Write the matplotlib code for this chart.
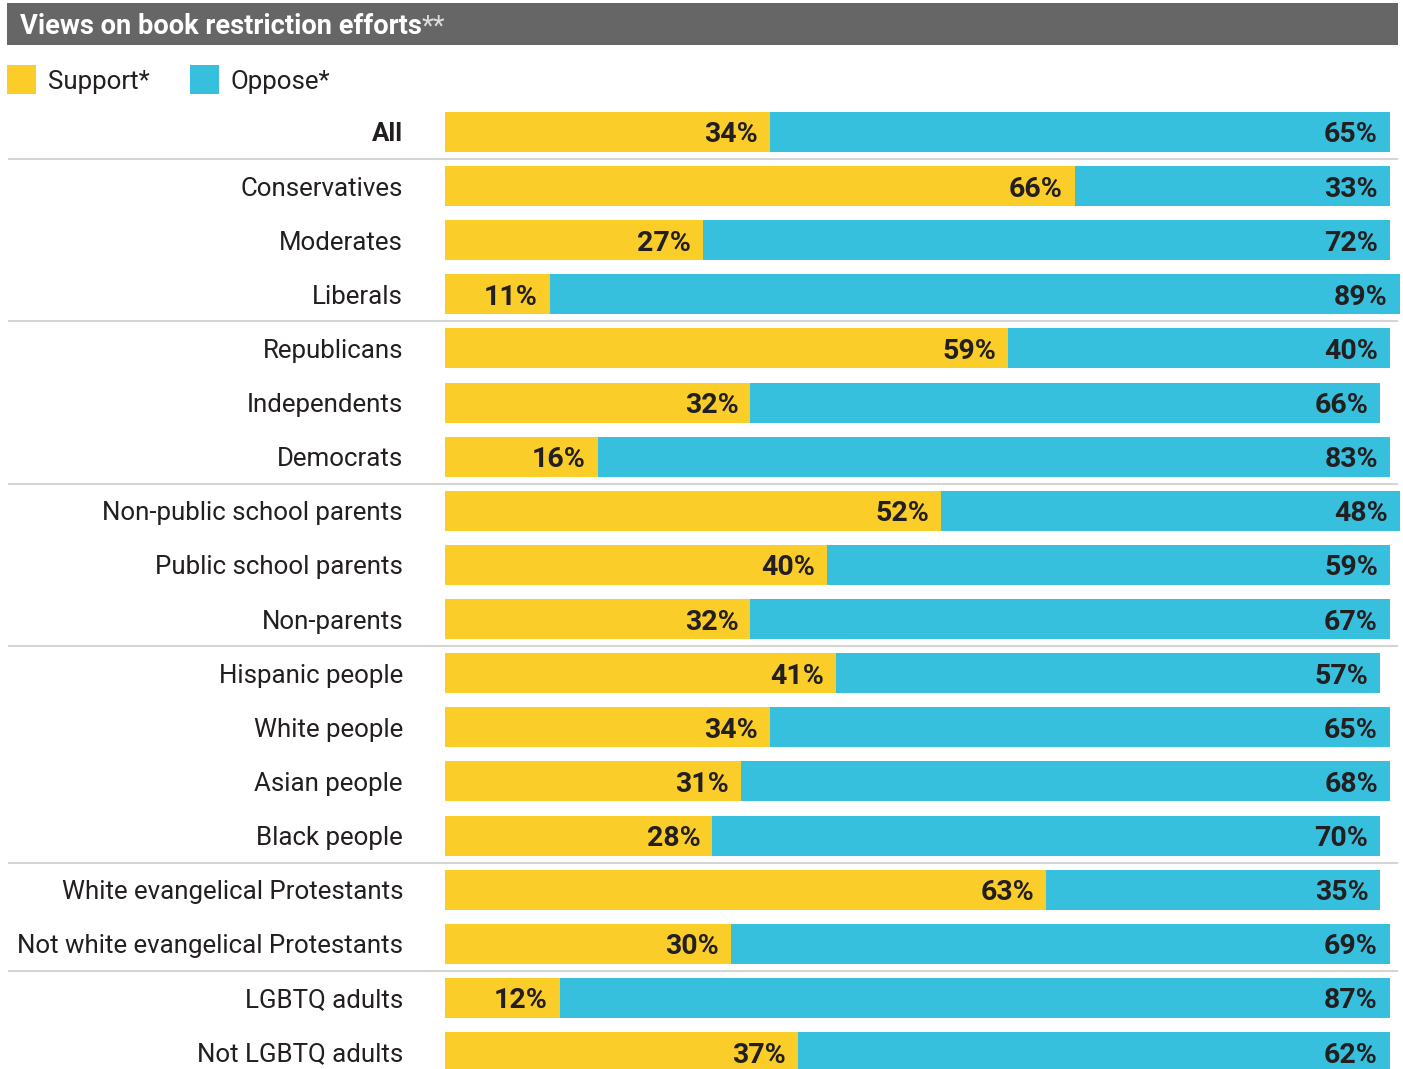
import matplotlib
matplotlib.use("Agg")
import matplotlib.pyplot as plt
from matplotlib import font_manager
from matplotlib.patches import Rectangle
from matplotlib.transforms import blended_transform_factory

categories = [
    "All", "Conservatives", "Moderates", "Liberals",
    "Republicans", "Independents", "Democrats",
    "Non-public school parents", "Public school parents", "Non-parents",
    "Hispanic people", "White people", "Asian people", "Black people",
    "White evangelical Protestants", "Not white evangelical Protestants",
    "LGBTQ adults", "Not LGBTQ adults",
]
support = [34, 66, 27, 11, 59, 32, 16, 52, 40, 32, 41, 34, 31, 28, 63, 30, 12, 37]
oppose = [65, 33, 72, 89, 40, 66, 83, 48, 59, 67, 57, 65, 68, 70, 35, 69, 87, 62]
group_ends = [0, 3, 6, 9, 13, 15]

title = "Views on book restriction efforts"
legend_labels = ["Support*", "Oppose*"]

YELLOW = "#FBCD29"
BLUE = "#37C0DD"
INK = "#231F20"
GREY_BAR = "#666666"
RULE = "#D4D4D4"

available = {f.name for f in font_manager.fontManager.ttflist}
narrow = "Liberation Sans Narrow" if "Liberation Sans Narrow" in available else "Roboto"

LABEL_FS = 18.6
VALUE_FS = 20.5
TITLE_FS = 19.6

W, H = 1403, 1069
fig = plt.figure(figsize=(W / 100, H / 100), dpi=100)

# bar axes: x from 445 px to 1399.5 px (0..100 %), rows spaced 54.12 px, first row centred at y=132 px
x0, x1 = 445, 1399.5
ax = fig.add_axes([x0 / W, 0, (x1 - x0) / W, 1])
row = 54.12
ax.set_xlim(0, 100)
ax.set_ylim((H - 132) / row, -132 / row)
ax.axis("off")

ys = list(range(len(categories)))
bh = 40 / row
ax.barh(ys, support, height=bh, color=YELLOW, linewidth=0)
ax.barh(ys, oppose, left=support, height=bh, color=BLUE, linewidth=0)

pad = 12 / (x1 - x0) * 100
for y, s, o in zip(ys, support, oppose):
    ax.text(s - pad, y, f"{s}%", ha="right", va="center_baseline",
            fontsize=VALUE_FS, fontweight="bold", family=narrow, color=INK)
    ax.text(s + o - pad, y, f"{o}%", ha="right", va="center_baseline",
            fontsize=VALUE_FS, fontweight="bold", family=narrow, color=INK)

lab_tr = blended_transform_factory(ax.transAxes, ax.transData)
lab_x = (403 - x0) / (x1 - x0)
for y, c in zip(ys, categories):
    ax.text(lab_x, y, c, transform=lab_tr, ha="right", va="center_baseline",
            fontsize=LABEL_FS, family=narrow, color=INK,
            fontweight="bold" if c == "All" else "normal")

rule_l = (8 - x0) / (x1 - x0)
rule_r = (1398 - x0) / (x1 - x0)
for g in group_ends:
    ax.plot([rule_l, rule_r], [g + 0.5, g + 0.5], transform=lab_tr,
            color=RULE, linewidth=1.5, clip_on=False, solid_capstyle="butt")

# title band
def px_rect(x, y, w, h, color):
    fig.patches.append(Rectangle((x / W, 1 - (y + h) / H), w / W, h / H,
                                 transform=fig.transFigure, color=color, linewidth=0))

px_rect(7, 3, 1391, 42, GREY_BAR)
t = fig.text(20 / W, 1 - 24 / H, title, color="white", fontsize=TITLE_FS,
             fontweight="bold", family="Roboto", va="center_baseline", ha="left")
fig.canvas.draw()
bb = t.get_window_extent()
fig.text(bb.x1 / W, 1 - 24 / H, "**", color="#DDDDDD", fontsize=TITLE_FS,
         family="Roboto", va="center_baseline", ha="left")

# legend
px_rect(7, 65, 29, 29, YELLOW)
fig.text(48 / W, 1 - 80 / H, legend_labels[0], fontsize=LABEL_FS, family=narrow,
         color=INK, va="center_baseline", ha="left")
px_rect(190, 65, 29, 29, BLUE)
fig.text(231 / W, 1 - 80 / H, legend_labels[1], fontsize=LABEL_FS, family=narrow,
         color=INK, va="center_baseline", ha="left")

fig.savefig("out.png", dpi=100, facecolor="white")
